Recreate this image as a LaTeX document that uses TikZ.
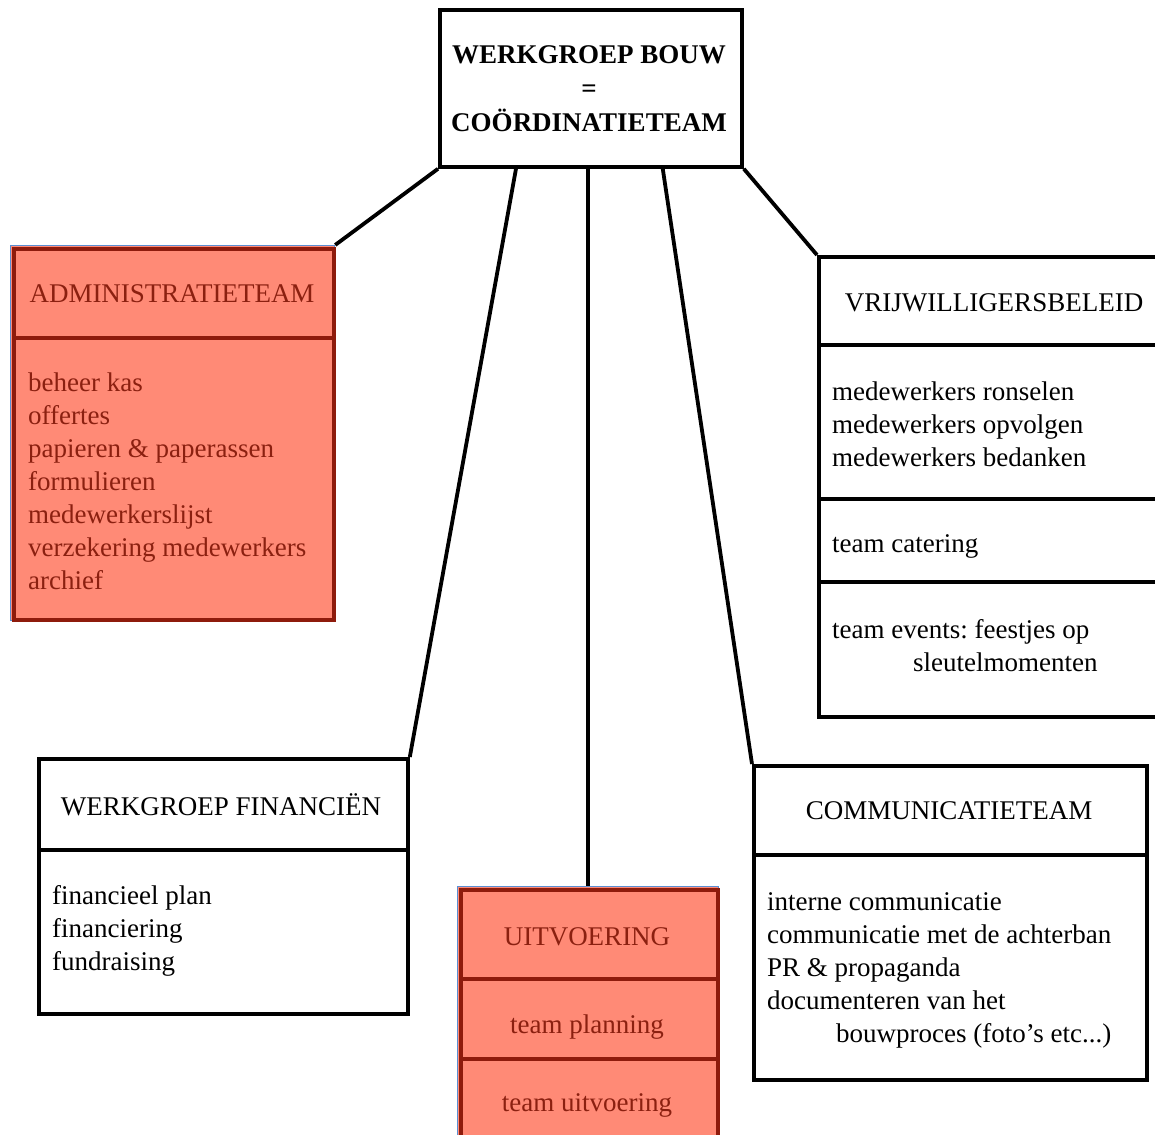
\documentclass[tikz,border=0pt]{standalone}
\usepackage{fontspec}
\setmainfont{Liberation Serif}
\usetikzlibrary{calc}
\definecolor{salmon}{HTML}{FF8A76}
\definecolor{dred}{HTML}{8E1B0C}
\definecolor{tred}{HTML}{8B2010}
\definecolor{fblue}{HTML}{5A8FD3}
\frenchspacing
\begin{document}
\begin{tikzpicture}[x=1pt,y=-1pt,
  wbox/.style={draw=black, line width=3.8pt, fill=white, inner sep=0pt, anchor=north west},
  rbox/.style={draw=dred, line width=3.5pt, fill=salmon, inner sep=0pt, anchor=north west},
  frame/.style={draw=fblue, line width=1.2pt, fill=salmon, inner sep=0pt, anchor=north west},
  conn/.style={line width=3.8pt, black},
  txt/.style={font=\fontsize{27}{33}\selectfont, inner sep=0pt, align=left},
  rtxt/.style={txt, text=tred}]
\useasboundingbox (0,0) rectangle (1155,1134);
% top box
\node[wbox, minimum width=302pt, minimum height=157pt] (top) at (438,8) {};
\node[txt, align=center, font=\bfseries\fontsize{27}{34}\selectfont] (toptxt) at (589,89) {WERKGROEP BOUW\\=\\COÖRDINATIETEAM};
% administratieteam
\node[frame, minimum width=324pt, minimum height=375pt] (admin) at (10,245) {};
\node[rbox, minimum width=320pt, minimum height=89pt] (adminhead) at (12,247) {};
\node[rbox, minimum width=320pt, minimum height=282pt] (adminbody) at (12,336) {};
\node[rtxt] (admint) at (172,294) {ADMINISTRATIETEAM};
\node[rtxt, anchor=west] (adminb) at (28,481) {beheer kas\\offertes\\papieren \& paperassen\\formulieren\\medewerkerslijst\\verzekering medewerkers\\archief};
% vrijwilligersbeleid
\node[wbox, minimum width=348pt, minimum height=88pt] (vrijhead) at (817,255) {};
\node[wbox, minimum width=348pt, minimum height=154pt] (vrijbody) at (817,343) {};
\node[wbox, minimum width=348pt, minimum height=83pt] (vrijcat) at (817,497) {};
\node[wbox, minimum width=348pt, minimum height=135pt] (vrijevt) at (817,580) {};
\node[txt] (vrijt) at (994,303) {VRIJWILLIGERSBELEID};
\node[txt, anchor=west] (vrijb) at (832,424) {medewerkers ronselen\\medewerkers opvolgen\\medewerkers bedanken};
\node[txt, anchor=west] (vrijc) at (832,546) {team catering};
\node[txt, anchor=west] (vrije) at (832,646) {team events: feestjes op\\\hspace*{81pt}sleutelmomenten};
% financien
\node[wbox, minimum width=369pt, minimum height=91pt] (finhead) at (37,757) {};
\node[wbox, minimum width=369pt, minimum height=164pt] (finbody) at (37,848) {};
\node[txt] (fint) at (221,805) {WERKGROEP FINANCIËN};
\node[txt, anchor=west] (finb) at (52,931) {financieel plan\\financiering\\fundraising};
% uitvoering
\node[frame, minimum width=261pt, minimum height=260pt] (uit) at (457,886) {};
\node[rbox, minimum width=257pt, minimum height=89pt] (uithead) at (459,888) {};
\node[rbox, minimum width=257pt, minimum height=80pt] (uitplan) at (459,977) {};
\node[rbox, minimum width=257pt, minimum height=88pt] (uituit) at (459,1057) {};
\node[rtxt] (uitt) at (587,937) {UITVOERING};
\node[rtxt] (uitp) at (587,1027) {team planning};
\node[rtxt] (uitu) at (587,1105) {team uitvoering};
% communicatieteam
\node[wbox, minimum width=393pt, minimum height=89pt] (commhead) at (752,764) {};
\node[wbox, minimum width=393pt, minimum height=225pt] (commbody) at (752,853) {};
\node[txt] (commt) at (949,811) {COMMUNICATIETEAM};
\node[txt, anchor=west] (commb) at (767,970) {interne communicatie\\communicatie met de achterban\\PR \& propaganda\\documenteren van het\\\hspace*{69pt}bouwproces (foto’s etc...)};
% connectors
\draw[conn] (top.south west) -- (admin.north east);
\draw[conn] ($(top.south west)!0.255!(top.south east)$) -- (finhead.north east);
\draw[conn] (uit.north |- top.south) -- (uit.north);
\draw[conn] ($(top.south west)!0.735!(top.south east)$) -- (commhead.north west);
\draw[conn] (top.south east) -- (vrijhead.north west);
\end{tikzpicture}
\end{document}
